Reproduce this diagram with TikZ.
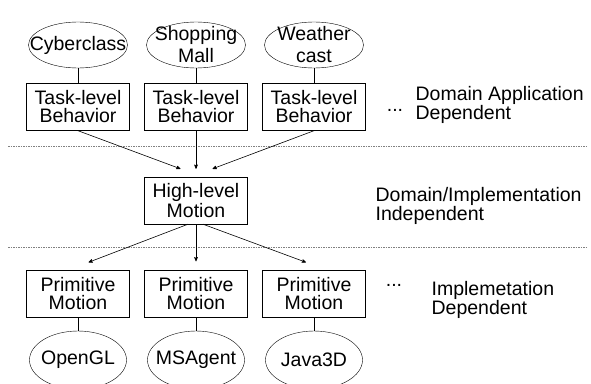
\documentclass[tikz,border=0pt]{standalone}
\usepackage{fontspec}
\setmainfont{Liberation Sans}
\usetikzlibrary{arrows,shapes.geometric}

\begin{document}
\begin{tikzpicture}[x=1pt,y=-1pt,->,>=stealth',semithick,node distance=118pt,
  font=\fontsize{19.5}{18}\selectfont,
  layer box/.style={rectangle,draw,thin,minimum width=103pt,minimum height=47pt,inner sep=0pt,align=center},
  app node/.style={ellipse,draw,thin,minimum width=99pt,minimum height=46pt,inner sep=0pt},
  lib node/.style={ellipse,draw,thin,minimum width=97pt,minimum height=58pt,inner sep=0pt},
  two lines/.style={align=center,font=\fontsize{19.5}{22}\selectfont},
  side text/.style={anchor=west,align=left,font=\fontsize{19.5}{18.5}\selectfont},
  sep line/.style={-,dash pattern=on 1.5pt off 1pt,gray,thin}]

  \useasboundingbox (0,0) rectangle (591,383);

  % applications on top
  \node[app node,label={center:Cyberclass}] (CY) at (78,45) {};
  \node[app node,label={[two lines]center:Shopping\\Mall}] (SM) [right of=CY] {};
  \node[app node,label={[two lines]center:Weather\\cast}] (WC) [right of=SM] {};

  \node[layer box] (T1) [below of=CY,node distance=62pt] {Task-level\\Behavior};
  \node[layer box] (T2) [below of=SM,node distance=62pt] {Task-level\\Behavior};
  \node[layer box] (T3) [below of=WC,node distance=62pt] {Task-level\\Behavior};

  \node[layer box] (HL) [below of=T2,node distance=93.5pt] {High-level\\Motion};

  \node[layer box] (P2) [below of=HL,node distance=93.5pt] {Primitive\\Motion};
  \node[layer box] (P1) [left of=P2] {Primitive\\Motion};
  \node[layer box] (P3) [right of=P2] {Primitive\\Motion};

  % libraries at the bottom
  \node[lib node,label={center:OpenGL}] (GL) [below of=P1,node distance=66pt] {};
  \node[lib node,label={center:MSAgent}] (MS) [below of=P2,node distance=66pt] {};
  \node[lib node,label={center:Java3D}] (J3) [below of=P3,node distance=66pt] {};

  % layer descriptions
  \node (D1) at (395,110) {...};
  \node[side text] (DA) at (412,105) {Domain Application\\Dependent};
  \node[side text] (DI) at (372,206) {Domain/Implementation\\Independent};
  \node (D2) at (394,285) {...};
  \node[side text] (ID) at (428,300) {Implemetation\\Dependent};

  \draw[sep line] (8,146) -- (586,146);
  \draw[sep line] (8,247) -- (586,247);

  \path[-]
    (CY) edge (T1)
    (SM) edge (T2)
    (WC) edge (T3)
    (P1) edge (GL)
    (P2) edge (MS)
    (P3) edge (J3);

  \path
    (T1.south) edge ([xshift=-15.5pt,yshift=8pt]HL.north)
    (T2.south) edge ([yshift=8pt]HL.north)
    (T3.south) edge ([xshift=16.5pt,yshift=8pt]HL.north)
    ([xshift=-8pt]HL.south) edge ([xshift=10.5pt,yshift=8pt]P1.north)
    (HL.south) edge ([yshift=9pt]P2.north)
    ([xshift=7pt]HL.south) edge ([xshift=-8pt,yshift=8pt]P3.north);
\end{tikzpicture}
\end{document}
